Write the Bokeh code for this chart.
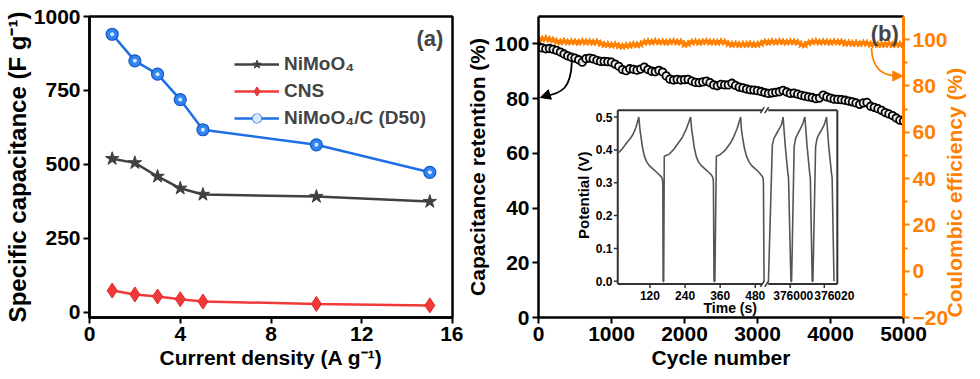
from bokeh.plotting import figure
from bokeh.models import (Range1d, LinearAxis, FixedTicker, Legend, LegendItem,
                          Arrow, NormalHead, Label)
from bokeh.layouts import row
from bokeh.embed import file_html
from bokeh.resources import INLINE
from bokeh.core.properties import value
import math

FONT = "Liberation Sans"

# ---------------- Panel (a) data ----------------
current_density = [1, 2, 3, 4, 5, 10, 15]
cap_nimoo4 = [519, 505, 459, 419, 398, 391, 374]
cap_cns = [73, 60, 53, 44, 36, 28, 23]
cap_nimoo4_c = [940, 850, 805, 719, 617, 566, 473]
xticks_a = [0, 4, 8, 12, 16]
yticks_a = [0, 250, 500, 750, 1000]

# ---------------- Panel (b) data ----------------
cycles = list(range(0, 5001, 50))
retention = [
    99.0, 98.5, 98.2, 98.3, 98.0, 97.6, 97.0, 96.3, 95.6, 95.1,
    94.8, 94.2, 93.3, 94.6, 94.8, 94.5, 94.0, 93.6, 93.6, 93.5,
    93.3, 92.6, 91.8, 90.6, 90.2, 90.9, 90.7, 90.4, 90.8, 91.5,
    90.6, 90.0, 89.8, 90.3, 89.7, 88.3, 87.1, 86.8, 87.0, 86.8,
    86.9, 87.0, 86.4, 85.9, 85.8, 86.1, 86.4, 85.8, 85.0, 84.7,
    85.2, 85.0, 85.0, 85.6, 84.8, 84.2, 83.9, 83.5, 83.2, 83.1,
    82.9, 82.6, 82.2, 81.9, 82.1, 82.3, 82.5, 83.0, 82.4, 81.9,
    82.0, 81.6, 81.2, 80.9, 80.6, 80.4, 80.0, 80.2, 81.3, 80.6,
    80.2, 79.8, 79.7, 79.6, 79.4, 79.1, 78.8, 78.4, 77.9, 78.4,
    78.6, 77.2, 76.8, 76.3, 75.7, 74.9, 74.4, 73.8, 72.9, 72.1,
    71.8]
coulombic = [
    100.4, 100.2, 100.5, 100.1, 99.8, 99.2, 99.0, 99.3, 98.9, 99.1,
    99.0, 98.8, 99.2, 98.9, 99.1, 98.8, 99.0, 98.3, 97.8, 97.9,
    97.6, 97.8, 97.3, 97.1, 97.4, 97.5, 97.9, 97.7, 98.0, 98.8,
    99.1, 98.9, 99.2, 99.0, 99.1, 98.8, 99.0, 99.2, 98.9, 99.0,
    97.9, 98.2, 98.9, 99.1, 98.8, 99.0, 99.2, 98.9, 99.0, 98.8,
    99.1, 98.9, 98.2, 97.9, 98.1, 97.8, 98.0, 97.9, 98.1, 97.8,
    97.9, 98.3, 99.0, 98.8, 99.1, 98.9, 99.2, 99.0, 98.9, 99.1,
    99.0, 98.8, 97.9, 97.7, 98.6, 99.0, 99.2, 98.9, 99.1, 99.0,
    98.8, 99.1, 98.9, 99.0, 98.4, 98.6, 98.3, 98.5, 98.2, 98.6,
    98.4, 97.9, 98.1, 97.8, 98.0, 97.9, 98.1, 97.8, 98.0, 97.9,
    98.0]
xticks_b = [0, 1000, 2000, 3000, 4000, 5000]
yticks_b = [0, 20, 40, 60, 80, 100]
ce_ticks = [-20, 0, 20, 40, 60, 80, 100]
ce_minor = [-10, 10, 30, 50, 70, 90]

# ---------------- Inset (GCD) data ----------------
gcd_t1 = [12, 25, 40, 52, 62, 72, 82, 86, 90, 95, 101, 108, 117, 128, 139, 150, 159, 162, 164,
          165, 167, 169, 184, 200, 217, 230, 245, 259, 263, 267, 272, 278, 285, 295, 306, 317,
          328, 334, 336, 337, 339, 342, 347, 361, 378, 395, 405, 418, 430, 433, 437, 443, 450,
          458, 467, 478, 489, 498, 505, 507, 508, 510]
gcd_v1 = [0.391, 0.403, 0.421, 0.434, 0.447, 0.468, 0.500, 0.460, 0.436, 0.405, 0.381, 0.365,
          0.353, 0.344, 0.335, 0.326, 0.318, 0.312, 0.300, 0.0, 0.0, 0.381, 0.386, 0.400, 0.421,
          0.437, 0.465, 0.500, 0.460, 0.436, 0.405, 0.381, 0.365, 0.353, 0.344, 0.335, 0.326,
          0.318, 0.312, 0.300, 0.0, 0.0, 0.381, 0.386, 0.400, 0.421, 0.437, 0.465, 0.500, 0.460,
          0.436, 0.405, 0.381, 0.365, 0.353, 0.344, 0.335, 0.326, 0.318, 0.312, 0.300, 0.0]
gcd_t2 = [375987.2, 375989.5, 375990.5, 375992.0, 375993.3, 375994.9, 375995.8, 375997.1,
          375998.6, 375999.0, 376000.4, 376000.8, 376002.3, 376003.2, 376004.5, 376005.7,
          376007.2, 376008.6, 376009.9, 376011.4, 376011.8, 376012.9, 376013.3, 376014.9,
          376015.8, 376017.1, 376018.5, 376020.0, 376021.3, 376022.6, 376024.2, 376024.6,
          376025.7]
gcd_v2 = [0.0, 0.416, 0.436, 0.450, 0.462, 0.477, 0.500, 0.411, 0.330, 0.315, 0.0, 0.0, 0.411,
          0.436, 0.450, 0.462, 0.477, 0.500, 0.411, 0.330, 0.315, 0.0, 0.0, 0.411, 0.436, 0.450,
          0.462, 0.477, 0.500, 0.411, 0.330, 0.315, 0.0]
inset_yticks = [0.0, 0.1, 0.2, 0.3, 0.4, 0.5]
inset_xticks1 = [120, 240, 360, 480]
inset_xticks2 = [376000, 376020]

BLACK = "black"
ORANGE = "#FF8000"


def style_axis(ax, label, color=BLACK, label_size="21px"):
    ax.axis_label = label
    ax.axis_line_width = 2.5
    ax.axis_line_color = color
    ax.major_tick_line_width = 2
    ax.major_tick_line_color = color
    ax.major_tick_in = 0
    ax.major_tick_out = 6
    ax.minor_tick_line_color = None
    ax.major_label_text_font = FONT
    ax.major_label_text_font_size = "21px"
    ax.major_label_text_font_style = "bold"
    ax.major_label_text_color = color
    ax.major_label_standoff = 3
    ax.axis_label_text_font = FONT
    ax.axis_label_text_font_size = label_size
    ax.axis_label_text_font_style = "bold"
    ax.axis_label_text_color = color
    ax.axis_label_standoff = 2


# ======================= Panel (a) =======================
p1 = figure(width=463, height=379, x_range=Range1d(0, 16), y_range=Range1d(-18, 1000),
            output_backend="svg", toolbar_location=None,
            min_border_left=87, min_border_right=11, min_border_top=16, min_border_bottom=62)
p1.grid.visible = False
p1.outline_line_color = BLACK
p1.outline_line_width = 2.5
p1.xaxis.ticker = FixedTicker(ticks=xticks_a)
p1.yaxis.ticker = FixedTicker(ticks=yticks_a)
style_axis(p1.xaxis[0], "Current density (A g\u207b\u00b9)")
style_axis(p1.yaxis[0], "Specific capacitance (F g\u207b\u00b9)", label_size="24px")
p1.yaxis[0].axis_label_standoff = 0

l1 = p1.line(current_density, cap_nimoo4, line_color="#404040", line_width=2.5)
s1 = p1.scatter(current_density, cap_nimoo4, marker="star", size=14,
                fill_color="#404040", line_color="#404040")
l2 = p1.line(current_density, cap_cns, line_color="#F03A3A", line_width=2.5)
s2 = p1.scatter(current_density, cap_cns, marker="diamond", size=15,
                fill_color="#F03A3A", line_color="#E02828")
l3 = p1.line(current_density, cap_nimoo4_c, line_color="#1E6FE6", line_width=2.5)
s3 = p1.scatter(current_density, cap_nimoo4_c, marker="circle", size=12,
                fill_color="#2F86F2", line_color="#1657C4", line_width=1.2)
h3 = p1.scatter(current_density, cap_nimoo4_c, marker="circle", size=4,
                fill_color="#D6E8FF", line_color=None)

legend = Legend(items=[
    LegendItem(label="NiMoO\u2084", renderers=[l1, s1]),
    LegendItem(label="CNS", renderers=[l2, s2]),
    LegendItem(label="NiMoO\u2084/C (D50)", renderers=[l3, s3, h3]),
], location=(145, 188))
legend.label_text_font = FONT
legend.label_text_font_size = "19px"
legend.label_text_font_style = "bold"
legend.glyph_width = 45
legend.glyph_height = 22
legend.label_height = 22
legend.spacing = 5
legend.padding = 0
legend.margin = 0
legend.label_standoff = 5
legend.border_line_color = None
legend.background_fill_alpha = 0
p1.add_layout(legend)

p1.add_layout(Label(x=15.6, y=968, text="(a)", text_align="right", text_baseline="top",
                    text_font=FONT, text_font_size="22px", text_font_style="bold"))

# ======================= Panel (b) =======================
p2 = figure(width=517, height=379, x_range=Range1d(0, 5000), y_range=Range1d(0, 110),
            output_backend="svg", toolbar_location=None,
            min_border_left=70, min_border_right=72, min_border_top=15, min_border_bottom=62)
p2.grid.visible = False
p2.outline_line_color = None
p2.extra_y_ranges = {"ce": Range1d(-20, 110), "iy": Range1d(-0.1101, 0.8061)}
p2.extra_x_ranges = {"ix1": Range1d(-260.9, 986.7), "ix2": Range1d(375852.2, 376066.5)}

p2.xaxis.ticker = FixedTicker(ticks=xticks_b)
p2.yaxis.ticker = FixedTicker(ticks=yticks_b)
style_axis(p2.xaxis[0], "Cycle number")
style_axis(p2.yaxis[0], "Capacitance retention (%)")

ax_r = LinearAxis(y_range_name="ce", ticker=FixedTicker(ticks=ce_ticks, minor_ticks=ce_minor))
style_axis(ax_r, "Coulombic efficiency (%)", ORANGE, label_size="21px")
ax_r.minor_tick_line_color = ORANGE
ax_r.minor_tick_line_width = 2
ax_r.minor_tick_in = 0
ax_r.minor_tick_out = 4
ax_r.axis_line_width = 3
ax_r.axis_label_standoff = 3
try:
    ax_r.axis_label_orientation = math.pi / 2
    ax_r.axis_label_align = "start"
except Exception:
    pass
p2.add_layout(ax_r, "right")

ax_top = LinearAxis(ticker=FixedTicker(ticks=[]))
ax_top.axis_line_width = 2.5
ax_top.axis_line_color = BLACK
ax_top.major_tick_out = 0
ax_top.major_tick_in = 0
ax_top.minor_tick_line_color = None
ax_top.major_label_text_font_size = "0px"
ax_top.major_label_standoff = 0
p2.add_layout(ax_top, "above")

p2.scatter(cycles, coulombic, y_range_name="ce", marker="star", size=8,
           fill_color=ORANGE, line_color=ORANGE)
p2.scatter(cycles, retention, marker="circle", size=7.5,
           fill_color="#EDEDED", line_color="#000000", line_width=1.8)

# arrows
p2.bezier(x0=[457], y0=[93.5], x1=[70], y1=[80.8], cx0=[445], cy0=[84.0],
          cx1=[330], cy1=[81.8], line_color=BLACK, line_width=1.8)
p2.add_layout(Arrow(end=NormalHead(size=10, fill_color=BLACK, line_color=BLACK),
                    x_start=95, y_start=81.0, x_end=25, y_end=80.4,
                    line_color=BLACK, line_width=1.8))
p2.bezier(x0=[4560], y0=[96.4], x1=[4930], y1=[84.3], cx0=[4575], cy0=[87.5],
          cx1=[4700], cy1=[84.4], y_range_name="ce", line_color=ORANGE, line_width=1.8)
p2.add_layout(Arrow(end=NormalHead(size=10, fill_color=ORANGE, line_color=ORANGE),
                    x_start=4900, y_start=84.3, x_end=4990, y_end=84.3,
                    y_range_name="ce", line_color=ORANGE, line_width=1.8))

p2.add_layout(Label(x=4935, y=108.2, text="(b)", text_align="right", text_baseline="top",
                    text_font=FONT, text_font_size="22px", text_font_style="bold"))

# ---------------- inset ----------------
IL, IBRK0, IBRK1, IR = 10, 504.3, 524.3, 760.5   # inset frame x (ix1 units)
IB, IT = -0.008, 0.521                            # inset frame y (iy units)
ICOL = "#333333"
p2.multi_line(xs=[[IL, IL], [IL, IBRK0], [IBRK1, IR], [IR, IR], [IL, IBRK0], [IBRK1, IR]],
              ys=[[IB, IT], [IT, IT], [IT, IT], [IB, IT], [IB, IB], [IB, IB]],
              x_range_name="ix1", y_range_name="iy", line_color=ICOL, line_width=2)
# break marks
p2.multi_line(xs=[[497.5, 510.9], [512.5, 525.9], [497.5, 510.9], [512.5, 525.9]],
              ys=[[IT - 0.009, IT + 0.009], [IT - 0.009, IT + 0.009],
                  [IB - 0.009, IB + 0.009], [IB - 0.009, IB + 0.009]],
              x_range_name="ix1", y_range_name="iy", line_color=ICOL, line_width=1.5)
# curves
p2.line(gcd_t1, gcd_v1, x_range_name="ix1", y_range_name="iy", line_color="#555555",
        line_width=1.6)
p2.line(gcd_t2, gcd_v2, x_range_name="ix2", y_range_name="iy", line_color="#555555",
        line_width=1.6)
# y ticks and labels
p2.segment(x0=[IL] * len(inset_yticks), y0=inset_yticks, x1=[IL - 13.3] * len(inset_yticks),
           y1=inset_yticks, x_range_name="ix1", y_range_name="iy", line_color=ICOL,
           line_width=1.5)
p2.text(x=[IL - 18] * len(inset_yticks), y=inset_yticks,
        text=["%.1f" % v for v in inset_yticks], x_range_name="ix1", y_range_name="iy",
        text_align="right", text_baseline="middle", text_font=value(FONT),
        text_font_size="12px", text_font_style="bold", text_color=BLACK)
# x ticks and labels
p2.segment(x0=inset_xticks1, y0=[IB] * 4, x1=inset_xticks1, y1=[IB - 0.012] * 4,
           x_range_name="ix1", y_range_name="iy", line_color=ICOL, line_width=1.5)
p2.segment(x0=inset_xticks2, y0=[IB] * 2, x1=inset_xticks2, y1=[IB - 0.012] * 2,
           x_range_name="ix2", y_range_name="iy", line_color=ICOL, line_width=1.5)
p2.text(x=inset_xticks1, y=[IB - 0.022] * 4, text=[str(t) for t in inset_xticks1],
        x_range_name="ix1", y_range_name="iy", text_align="center", text_baseline="top",
        text_font=value(FONT), text_font_size="12px", text_font_style="bold", text_color=BLACK)
p2.text(x=inset_xticks2, y=[IB - 0.022] * 2, text=[str(t) for t in inset_xticks2],
        x_offset=[3, 10],
        x_range_name="ix2", y_range_name="iy", text_align="center", text_baseline="top",
        text_font=value(FONT), text_font_size="12px", text_font_style="bold", text_color=BLACK)
p2.text(x=[394.5], y=[-0.080], text=["Time (s)"], x_range_name="ix1", y_range_name="iy",
        text_align="center", text_baseline="middle", text_font=value(FONT),
        text_font_size="14px", text_font_style="bold", text_color=BLACK)
p2.text(x=[-107.9], y=[0.262], text=["Potential (V)"], angle=math.pi / 2,
        x_range_name="ix1", y_range_name="iy", text_align="center", text_baseline="middle",
        text_font=value(FONT), text_font_size="15px", text_font_style="bold", text_color=BLACK)

layout = row(p1, p2)
open("out.html", "w").write(file_html(layout, INLINE))
